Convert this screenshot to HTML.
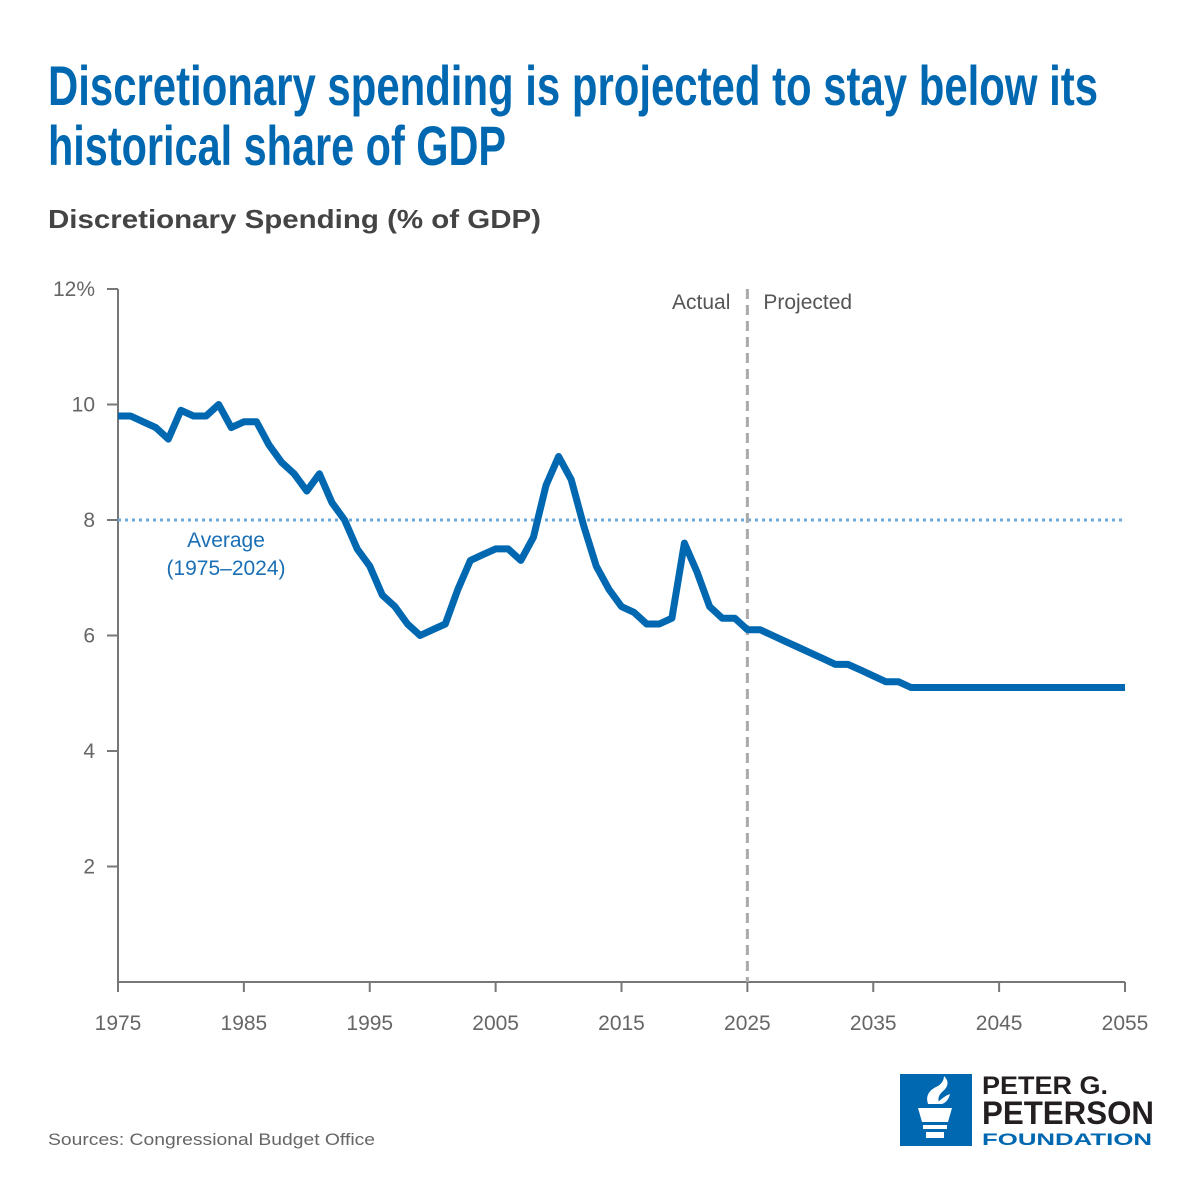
<!DOCTYPE html>
<html><head><meta charset="utf-8"><style>
html,body{margin:0;padding:0;background:#fff;}
svg{display:block;font-family:"Liberation Sans",sans-serif;}
</style></head><body>
<svg id="chart" width="1200" height="1200" viewBox="0 0 1200 1200">
<text x="48" y="105" font-size="56" font-weight="bold" fill="#0067b1" textLength="1050" lengthAdjust="spacingAndGlyphs">Discretionary spending is projected to stay below its</text>
<text x="48" y="165" font-size="56" font-weight="bold" fill="#0067b1" textLength="458" lengthAdjust="spacingAndGlyphs">historical share of GDP</text>
<text x="48" y="228" font-size="26" font-weight="bold" fill="#444" textLength="493" lengthAdjust="spacingAndGlyphs">Discretionary Spending (% of GDP)</text>
<g id="axes"></g>
<g id="plot"></g>
<text x="48" y="1145" font-size="17" fill="#666" textLength="327" lengthAdjust="spacingAndGlyphs">Sources: Congressional Budget Office</text>
<g>
<rect x="900" y="1074" width="72" height="72" fill="#0067b1"/>
<path d="M918 1108 h34 l-4 14 h-26 z M923 1125 h24 v4 h-24 z M926 1132 h18 v6 h-18 z" fill="#fff"/>
<path d="M928 1104 q-4-12 10-18 q6-4 6-10 q8 8-2 16 q-6 6 -2 12 z M936 1104 q8-8 14-10 q-2 8 -8 10z" fill="#fff"/>
<text x="982" y="1094" font-size="25" font-weight="bold" fill="#231f20" textLength="126" lengthAdjust="spacingAndGlyphs">PETER G.</text>
<text x="982" y="1124" font-size="32" font-weight="bold" fill="#231f20" textLength="172" lengthAdjust="spacingAndGlyphs">PETERSON</text>
<text x="982" y="1145" font-size="17" font-weight="bold" fill="#0067b1" textLength="170" lengthAdjust="spacingAndGlyphs">FOUNDATION</text>
</g>
</svg>
<script>
const years=[];for(let y=1975;y<=2055;y++)years.push(y);
const values=[9.8,9.8,9.7,9.6,9.4,9.9,9.8,9.8,10.0,9.6,9.7,9.7,9.3,9.0,8.8,8.5,8.8,8.3,8.0,7.5,7.2,6.7,6.5,6.2,6.0,6.1,6.2,6.8,7.3,7.4,7.5,7.5,7.3,7.7,8.6,9.1,8.7,7.9,7.2,6.8,6.5,6.4,6.2,6.2,6.3,7.6,7.1,6.5,6.3,6.3,6.1,6.1,6.0,5.9,5.8,5.7,5.6,5.5,5.5,5.4,5.3,5.2,5.2,5.1,5.1,5.1,5.1,5.1,5.1,5.1,5.1,5.1,5.1,5.1,5.1,5.1,5.1,5.1,5.1,5.1,5.1];
const yTicks=[2,4,6,8,10,12];
const yTickLabels=["2","4","6","8","10","12%"];
const xTicks=[1975,1985,1995,2005,2015,2025,2035,2045,2055];
const averageValue=8.0;
const dividerYear=2025;
const NS="http://www.w3.org/2000/svg";
const X0=118,X1=1125,Y0=982,Y1=289;
function sx(y){return X0+(y-1975)/(2055-1975)*(X1-X0);}
function sy(v){return Y0-v/12*(Y0-Y1);}
function mk(tag,attrs,parent){const e=document.createElementNS(NS,tag);for(const k in attrs)e.setAttribute(k,attrs[k]);parent.appendChild(e);return e;}
const axes=document.getElementById('axes'),plot=document.getElementById('plot');
let e=mk('line',{x1:X0,y1:Y1,x2:X0,y2:Y0,stroke:'#777','stroke-width':2},axes);


e=mk('line',{x1:X0-1,y1:Y0,x2:X1,y2:Y0,stroke:'#777','stroke-width':2},axes);


yTicks.forEach((t,i)=>{
 const y=sy(t);
 let tk=mk('line',{x1:X0-11,y1:y,x2:X0,y2:y,stroke:'#777','stroke-width':2},axes);
 
 
 let lb=mk('text',{x:95,y:y+7,'font-size':21,fill:'#666','text-anchor':'end'},axes);
 lb.textContent=yTickLabels[i];
 
 
});
xTicks.forEach(t=>{
 const x=sx(t);
 let tk=mk('line',{x1:x,y1:Y0,x2:x,y2:Y0+10,stroke:'#777','stroke-width':2},axes);
 
 
 let lb=mk('text',{x:x,y:1030,'font-size':21,fill:'#666','text-anchor':'middle'},axes);
 lb.textContent=String(t);
 
 
});
e=mk('line',{x1:X0,y1:sy(averageValue),x2:X1,y2:sy(averageValue),stroke:'#6fa8dc','stroke-width':3,'stroke-dasharray':'3 4'},plot);


e=mk('text',{x:226,y:sy(averageValue)+27,'font-size':21,fill:'#1a6fb5','text-anchor':'middle'},plot);
e.textContent='Average';


e=mk('text',{x:226,y:sy(averageValue)+55,'font-size':21,fill:'#1a6fb5','text-anchor':'middle'},plot);
e.textContent='(1975–2024)';


const dx=sx(dividerYear);
e=mk('line',{x1:dx,y1:Y1,x2:dx,y2:Y0,stroke:'#aaa','stroke-width':3,'stroke-dasharray':'10 6'},plot);


e=mk('text',{x:dx-17,y:309,'font-size':21,fill:'#555','text-anchor':'end'},plot);
e.textContent='Actual';


e=mk('text',{x:dx+16,y:309,'font-size':21,fill:'#555'},plot);
e.textContent='Projected';


const d=years.map((y,i)=>(i?'L':'M')+sx(y).toFixed(1)+' '+sy(values[i]).toFixed(1)).join(' ');
e=mk('path',{d:d,fill:'none',stroke:'#0067b1','stroke-width':7,'stroke-linejoin':'round'},plot);


</script>
</body></html>
